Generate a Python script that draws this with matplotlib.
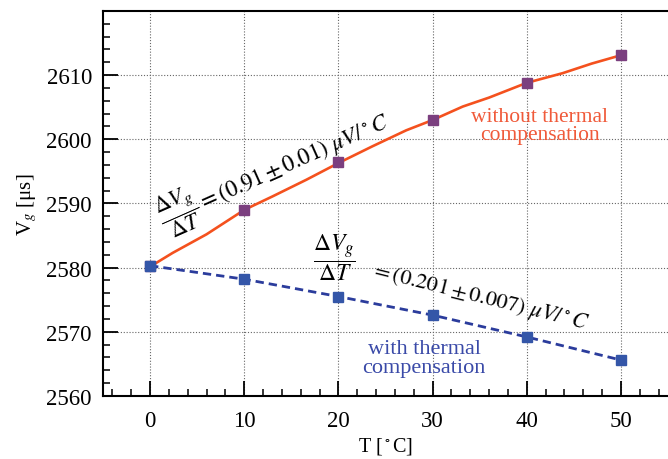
import matplotlib
matplotlib.use("Agg")
import matplotlib.pyplot as plt
from matplotlib.ticker import MultipleLocator

plt.rcParams['font.family'] = ['Liberation Serif', 'DejaVu Serif']
plt.rcParams['mathtext.fontset'] = 'stix'

# measured points (markers)
T = [0, 10, 20, 30, 40, 50]
V_without = [2580.3, 2589.0, 2596.4, 2603.0, 2608.8, 2613.1]
V_with = [2580.3, 2578.2, 2575.5, 2572.6, 2569.2, 2565.6]

# continuous trace without compensation
T_trace = [0.5, 2.4, 6.0, 10.0, 13.0, 16.6, 20.0, 23.6, 27.2, 30.0, 33.2, 36.0, 40.0, 43.8, 46.9, 50.0]
V_trace = [2580.6, 2582.3, 2585.2, 2589.0, 2591.1, 2593.7, 2596.3, 2598.9, 2601.4,
           2603.0, 2605.1, 2606.5, 2608.8, 2610.3, 2611.8, 2613.1]

fig = plt.figure(figsize=(6.68, 4.60), dpi=100)
ax = fig.add_axes([0.1542, 0.137, 0.8458, 0.837])

ax.plot(T_trace, V_trace, color='#f4511e', lw=1.9, zorder=3)
ax.plot(T, V_without, 's', color='#7b3f7f', ms=7, zorder=4)
ax.plot(T, V_with, 's--', color='#2b3c9c', mfc='#3456a8', mec='#3456a8',
        ms=7, lw=2.0, dashes=(3, 1.8), zorder=4)

ax.set_xlim(-5, 55)
ax.set_ylim(2560, 2620)
ax.xaxis.set_minor_locator(MultipleLocator(2))
ax.yaxis.set_minor_locator(MultipleLocator(2))
ax.set_xticks([0, 10, 20, 30, 40, 50])
ax.set_yticks([2560, 2570, 2580, 2590, 2600, 2610])

ax.tick_params(which='major', direction='in', length=11, width=1.3, labelsize=16.5, pad=10)
ax.tick_params(which='minor', direction='in', length=5, width=1.1)
ax.tick_params(axis='y', pad=8)
ax.spines['right'].set_visible(False)
for s in ['left', 'top', 'bottom']:
    ax.spines[s].set_linewidth(1.5)

ax.grid(True, which='major', linestyle=(0, (1, 1.6)), color='#666666', lw=0.8)

ax.set_xlabel(r'T [$^\circ$C]', fontsize=14.5, labelpad=3)
ax.set_ylabel('V$_g$ [μs]', fontsize=15, labelpad=5)

ax.text(1.0, 2587.6, r'$\dfrac{\Delta V_g}{\Delta T} = (0.91 \pm 0.01)\ \mu V/^\circ C$',
        rotation=24, fontsize=16.5, rotation_mode='anchor', ha='left', va='center')
ax.text(19.6, 2581.7, r'$\dfrac{\Delta V_g}{\Delta T}$', fontsize=17, ha='center', va='center')
ax.text(23.5, 2579.8, r'$= (0.201 \pm 0.007)\ \mu V/^\circ C$',
        rotation=-14, fontsize=16, rotation_mode='anchor', ha='left', va='center')

ax.text(41.4, 2602.2, 'without thermal\ncompensation', color='#f05a3a', fontsize=15.5,
        ha='center', va='center', linespacing=0.95)
ax.text(29.1, 2565.9, 'with thermal\ncompensation', color='#3a4aa8', fontsize=16,
        ha='center', va='center', linespacing=0.95)

fig.savefig('out.png', dpi=100)
